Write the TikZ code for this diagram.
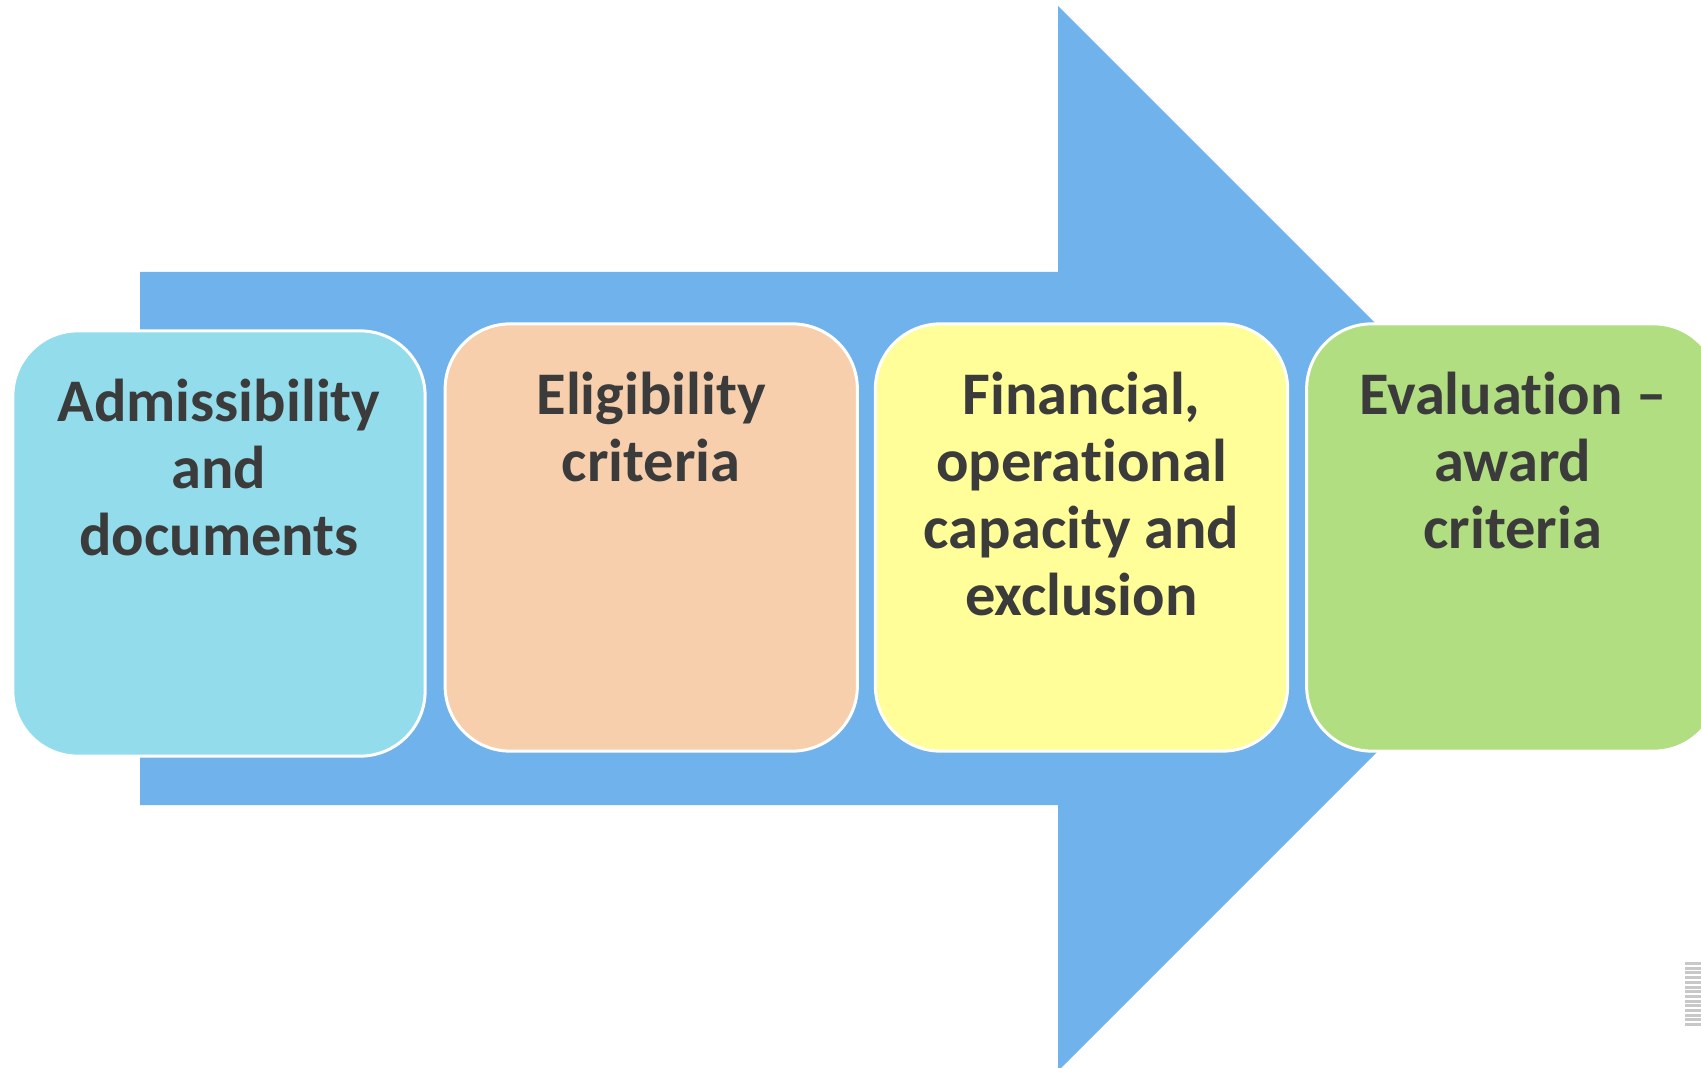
\documentclass[tikz,border=0pt]{standalone}
\usepackage{fontspec}
\setmainfont{Carlito}[Ligatures=NoCommon]
\usetikzlibrary{positioning}
\definecolor{arrowblue}{RGB}{111,178,236}
\definecolor{admblue}{RGB}{147,220,235}
\definecolor{eligpeach}{RGB}{247,207,172}
\definecolor{finyellow}{RGB}{255,254,153}
\definecolor{evalgreen}{RGB}{177,222,128}
\definecolor{txtgray}{RGB}{59,59,59}
\definecolor{stripegray}{RGB}{200,200,200}
\tikzset{
  stagebox/.style={draw=white, line width=0.03cm, rounded corners=0.65cm,
    minimum width=4.12cm, minimum height=4.27cm, inner sep=0pt},
  stagetxt/.style={text=txtgray, align=center, inner sep=0pt,
    font=\fontsize{17.2}{19.06}\selectfont\bfseries}
}
\begin{document}
\begin{tikzpicture}[x=0.01cm,y=-0.01cm]
    \useasboundingbox (0,0) rectangle (1701,1067);
    \clip (0,0) rectangle (1701,1067);
    % big arrow behind the stages
    \fill[arrowblue] (140,272)--(1058,272)--(1058,6)--(1590.5,538.5)--(1058,1071)--(1058,805)--(140,805)--cycle;
    % stages
    \node[stagebox, fill=admblue, minimum height=4.25cm] (adm) at (219,543.5) {};
    \node[stagebox, fill=eligpeach, right=0.17cm of adm, yshift=0.06cm] (elig) {};
    \node[stagebox, fill=finyellow, right=0.15cm of elig] (fin) {};
    \node[stagebox, fill=evalgreen, right=0.16cm of fin] (eval) {};
    \node[stagetxt, below=0.49cm of adm.north] (admtxt) {Admissibility\\and\\documents};
    \node[stagetxt, below=0.49cm of elig.north] (eligtxt) {Eligibility\\criteria};
    \node[stagetxt, below=0.49cm of fin.north] (fintxt) {Financial,\\operational\\capacity and\\exclusion};
    \node[stagetxt, below=0.49cm of eval.north] (evaltxt) {Evaluation --\\award\\criteria};
    % stripes at the bottom right
    \foreach \i in {0,...,13}
      \fill[stripegray] (1685,962+\i*4.7) rectangle (1701,962+\i*4.7+3);
\end{tikzpicture}
\end{document}
